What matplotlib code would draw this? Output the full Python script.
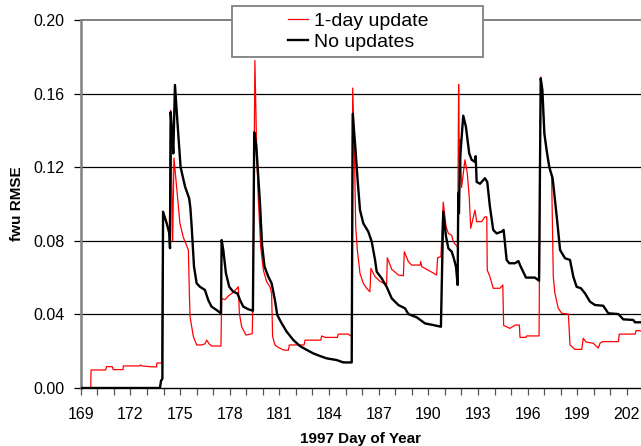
import matplotlib
matplotlib.use("Agg")
import matplotlib.pyplot as plt
from matplotlib.patches import Rectangle
import numpy as np

plt.rcParams['font.family'] = ['Liberation Sans', 'DejaVu Sans']

# ---- data ----
noupd_day = [169.0, 173.78, 173.85, 173.93, 173.97, 174.19, 174.35, 174.39, 174.43, 174.52, 174.59,
             174.69, 174.83, 175.03, 175.30, 175.55, 175.62, 175.70, 175.84, 176.0, 176.2, 176.5,
             176.7, 176.9, 177.2, 177.47, 177.51, 177.61, 177.77, 177.97, 178.21, 178.46, 178.62,
             178.82, 179.12, 179.40, 179.48, 179.6, 179.83, 179.95, 180.1, 180.33, 180.53, 180.73,
             180.87, 181.14, 181.44, 181.84, 182.24, 182.65, 183.05, 183.45, 183.86, 184.46, 184.86,
             185.37, 185.43, 185.57, 185.71, 185.87, 186.07, 186.37, 186.58, 186.78, 186.88, 187.18,
             187.48, 187.79, 188.19, 188.59, 188.79, 189.30, 189.80, 190.30, 190.76, 190.90, 191.07,
             191.21, 191.41, 191.51, 191.67, 191.77, 191.81, 191.85, 191.91, 192.11, 192.27, 192.47,
             192.62, 192.80, 192.86, 192.92, 193.12, 193.42, 193.56, 193.72, 193.92, 194.13, 194.43,
             194.55, 194.73, 194.89, 195.24, 195.44, 195.58, 195.90, 196.44, 196.69, 196.79, 196.89,
             197.01, 197.15, 197.31, 197.51, 197.76, 197.96, 198.26, 198.56, 198.76, 198.96, 199.22,
             199.47, 199.77, 200.07, 200.57, 200.87, 201.48, 201.78, 202.38, 202.49, 202.85]
noupd_val = [0.0, 0.0, 0.004, 0.005, 0.0958, 0.0895, 0.084, 0.076, 0.150, 0.138, 0.1275,
             0.1647, 0.1457, 0.120, 0.1094, 0.103, 0.098, 0.0877, 0.066, 0.0569, 0.055, 0.0533,
             0.0478, 0.0442, 0.0424, 0.0406, 0.0804, 0.075, 0.0623, 0.055, 0.0523, 0.0514, 0.0478,
             0.0442, 0.0428, 0.042, 0.139, 0.132, 0.100, 0.078, 0.066, 0.0605, 0.0569, 0.0478,
             0.0397, 0.0351, 0.0306, 0.0261, 0.0228, 0.0207, 0.0188, 0.0174, 0.0161, 0.0152, 0.0139,
             0.0139, 0.149, 0.133, 0.115, 0.0967, 0.0895, 0.085, 0.0795, 0.0696, 0.0632, 0.0596,
             0.055, 0.0487, 0.0451, 0.0433, 0.0402, 0.0384, 0.0351, 0.0342, 0.0333, 0.0958, 0.0822,
             0.0759, 0.0741, 0.0714, 0.066, 0.056, 0.106, 0.095, 0.124, 0.148, 0.142, 0.1275,
             0.124, 0.123, 0.126, 0.112, 0.111, 0.114, 0.112, 0.0986, 0.0859, 0.084, 0.085,
             0.0859, 0.0696, 0.0678, 0.0678, 0.069, 0.066, 0.060, 0.060, 0.0583, 0.1683, 0.162,
             0.1384, 0.129, 0.120, 0.114, 0.093, 0.075, 0.0705, 0.0696, 0.0605, 0.055, 0.0542,
             0.0514, 0.0469, 0.0451, 0.0447, 0.0406, 0.0402, 0.0373, 0.037, 0.0357, 0.0357]

upd_day = [169.6, 169.62, 170.5, 170.56, 170.9, 170.96, 171.55, 171.57, 172.55, 172.6, 172.7,
           173.28, 173.58, 173.6, 173.89, 173.97, 174.19, 174.35, 174.43, 174.55, 174.63, 174.79,
           174.99, 175.19, 175.50, 175.56, 175.60, 175.80, 176.0, 176.31, 176.5, 176.61, 176.75,
           176.91, 177.47, 177.51, 177.71, 177.91, 178.21, 178.52, 178.58, 178.72, 178.98, 179.36,
           179.42, 179.52, 179.63, 179.73, 179.87, 180.03, 180.23, 180.43, 180.53, 180.59, 180.73,
           180.93, 181.24, 181.54, 181.60, 182.49, 182.55, 183.50, 183.56, 183.76, 184.50, 184.56,
           185.16, 185.37, 185.43, 185.53, 185.61, 185.71, 185.87, 186.07, 186.27, 186.47, 186.53,
           186.78, 187.08, 187.48, 187.52, 187.79, 188.19, 188.49, 188.55, 188.79, 188.99, 189.50,
           189.54, 189.60, 189.90, 190.20, 190.50, 190.56, 190.76, 190.90, 191.07, 191.21, 191.41,
           191.51, 191.77, 191.83, 191.87, 191.93, 192.01, 192.21, 192.35, 192.47, 192.56, 192.82,
           192.92, 193.22, 193.42, 193.53, 193.56, 193.72, 193.92, 194.33, 194.50, 194.55, 194.93,
           195.24, 195.50, 195.54, 195.90, 195.94, 196.69, 196.79, 196.89, 197.01, 197.15, 197.31,
           197.45, 197.55, 197.65, 197.85, 198.06, 198.46, 198.56, 198.86, 199.27, 199.36, 199.53,
           199.97, 200.27, 200.37, 200.53, 201.48, 201.54, 202.49, 202.55, 202.85]
upd_val = [0.0, 0.0098, 0.0098, 0.0116, 0.0116, 0.010, 0.010, 0.012, 0.012, 0.0125, 0.012,
           0.0115, 0.0115, 0.0136, 0.0136, 0.0958, 0.0895, 0.084, 0.151, 0.080, 0.125, 0.109,
           0.0895, 0.082, 0.075, 0.0514, 0.0388, 0.028, 0.0234, 0.0234, 0.024, 0.026, 0.024,
           0.0228, 0.0228, 0.0487, 0.048, 0.050, 0.052, 0.055, 0.0406, 0.0333, 0.0288, 0.0295,
           0.060, 0.178, 0.1275, 0.102, 0.0768, 0.064, 0.0578, 0.055, 0.0514, 0.028, 0.0234,
           0.0221, 0.0207, 0.0205, 0.0234, 0.0234, 0.026, 0.026, 0.0283, 0.0275, 0.0275, 0.0293,
           0.0293, 0.028, 0.163, 0.131, 0.0877, 0.075, 0.0623, 0.0569, 0.0542, 0.0523, 0.065,
           0.0605, 0.058, 0.056, 0.0708, 0.0645, 0.0614, 0.061, 0.0741, 0.0687, 0.0668, 0.0668,
           0.0687, 0.066, 0.0645, 0.063, 0.0614, 0.0708, 0.0714, 0.101, 0.0877, 0.084, 0.083,
           0.0795, 0.0765, 0.165, 0.124, 0.135, 0.109, 0.124, 0.117, 0.104, 0.0868, 0.0967,
           0.0904, 0.0904, 0.093, 0.093, 0.0641, 0.0605, 0.0542, 0.0542, 0.056, 0.034, 0.0324,
           0.0342, 0.0342, 0.0275, 0.0275, 0.0283, 0.0283, 0.169, 0.162, 0.1384, 0.129, 0.120,
           0.115, 0.0605, 0.0514, 0.0433, 0.0406, 0.0402, 0.0234, 0.021, 0.021, 0.027, 0.025,
           0.0243, 0.0217, 0.0243, 0.0252, 0.0252, 0.0293, 0.0293, 0.0312, 0.031]

x_labels = list(range(169, 203, 3))
x_minor = list(range(169, 203, 1))
y_ticks = [0.00, 0.04, 0.08, 0.12, 0.16, 0.20]

# ---- figure ----
W, H = 641, 446
fig = plt.figure(figsize=(W / 100, H / 100), dpi=100)
ax_w = 1 - 80.8 / W
ax = fig.add_axes([80.8 / W, 58 / H, ax_w, (388 - 20) / H])

ax.plot(upd_day, upd_val, color='#ff0000', lw=0.9, label='1-day update', zorder=3)
ax.plot(noupd_day, noupd_val, color='black', lw=1.7, label='No updates', zorder=4)

ax.set_xlim(169, 202.85)
ax.set_ylim(0, 0.20)

ax.set_yticks(y_ticks)
ax.set_yticklabels([f"{v:.2f}" for v in y_ticks])
ax.set_xticks(x_labels)
ax.set_xticks(x_minor, minor=True)
ax.set_xticklabels([str(v) for v in x_labels])

for g in y_ticks[1:-1]:
    ax.axhline(g, color='black', lw=0.9, zorder=1)

ax.tick_params(axis='both', which='both', direction='out', length=5, width=0.9,
               colors='black', labelsize=11.5)
ax.tick_params(axis='x', which='both', color='#555555')
ax.tick_params(axis='x', which='major', pad=9)
ax.tick_params(axis='y', pad=7)

ax.spines['right'].set_visible(False)
ax.spines['left'].set_color('#808080')
ax.spines['left'].set_linewidth(1.8)
ax.spines['top'].set_color('#808080')
ax.spines['top'].set_linewidth(1.4)
ax.spines['bottom'].set_color('black')
ax.spines['bottom'].set_linewidth(1.0)

ax.set_xlabel('1997 Day of Year', fontsize=11, fontweight='bold')
ax.xaxis.set_label_coords(0.5, -0.12)
ax.set_ylabel('fwu RMSE', fontsize=11, fontweight='bold')
ax.yaxis.set_label_coords(-(80.8 - 24) / (W - 80.8), 0.5)

# legend frame
frame = Rectangle((232 / W, (H - 57) / H), 251 / W, 51 / H,
                  transform=fig.transFigure, facecolor='white',
                  edgecolor='#808080', lw=1.3, zorder=10, clip_on=False)
ax.add_patch(frame)
leg = ax.legend(loc='center', bbox_to_anchor=(358 / W, (H - 31.5) / H),
                bbox_transform=fig.transFigure, frameon=False, fontsize=14,
                handlelength=1.05, handletextpad=0.3, labelspacing=0.15,
                borderpad=0.0)
leg.set_zorder(11)

fig.savefig('out.png', dpi=100)
